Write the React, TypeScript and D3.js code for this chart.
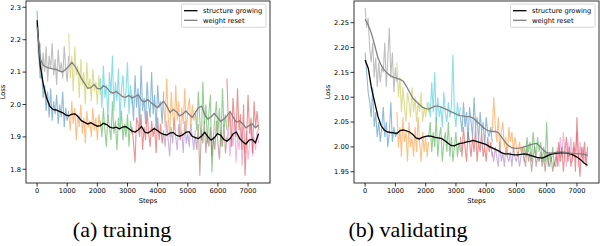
import React from 'react';
import * as d3 from 'd3';

// raw loss is logged every 50 steps, each colored run covers 1050 steps
const RAW_STEP = 50;
const SEG_LEN = 1050;
const SMOOTH_STEP = 105;
const xDomain = [-368, 7728];
const legendLabels = ["structure growing", "weight reset"];

// ---- training ----
const trainGrowRaw = [
	[2.29, 2.17, 2.08, 2.10, 2.02, 2.06, 1.98, 2.04, 1.96, 2.05, 1.95, 2.01, 1.97, 2.03, 1.94, 2.00, 1.96, 2.04, 1.93, 1.99, 1.95, 1.98],
	[1.97, 1.92, 2.01, 1.94, 1.99, 1.89, 1.97, 1.93, 2.00, 1.91, 1.96, 1.88, 1.98, 1.93, 1.95, 1.90, 1.99, 1.92, 1.96, 1.89, 1.97, 1.93],
	[1.95, 1.90, 1.99, 1.92, 1.87, 1.97, 1.93, 1.89, 2.01, 1.91, 1.95, 1.86, 1.96, 1.92, 1.98, 1.89, 1.94, 1.90, 1.97, 1.87, 1.95, 1.91],
	[1.93, 1.88, 1.82, 1.96, 1.94, 1.90, 1.97, 1.86, 1.93, 1.89, 1.98, 1.91, 1.87, 1.95, 1.90, 1.93, 1.85, 1.96, 1.89, 1.94, 1.88, 1.92],
	[1.91, 1.87, 1.95, 1.89, 1.84, 1.93, 1.88, 1.96, 1.90, 1.86, 1.94, 1.89, 1.92, 1.85, 1.95, 1.88, 1.91, 1.87, 1.94, 1.90, 1.86, 1.92],
	[1.90, 1.86, 1.94, 1.78, 1.92, 1.88, 1.95, 1.85, 1.91, 1.87, 1.93, 1.84, 1.90, 1.86, 1.95, 1.88, 1.83, 1.92, 1.87, 1.94, 1.85, 1.90],
	[1.89, 1.93, 1.84, 1.91, 1.87, 1.96, 1.82, 1.90, 1.86, 1.93, 1.81, 1.89, 1.85, 1.92, 1.83, 1.88, 1.94, 1.84, 1.90, 1.86, 1.92, 1.88]
];
const trainResetRaw = [
	[2.25, 2.14, 2.19, 2.08, 2.16, 2.10, 2.18, 2.07, 2.15, 2.11, 2.19, 2.09, 2.14, 2.06, 2.17, 2.10, 2.13, 2.08, 2.18, 2.11, 2.07, 2.15],
	[2.22, 2.08, 2.15, 2.04, 2.18, 2.09, 2.12, 2.02, 2.14, 2.06, 2.10, 2.00, 2.13, 2.05, 2.08, 2.01, 2.11, 2.04, 2.07, 2.00, 2.09, 2.03],
	[2.08, 1.99, 2.12, 2.02, 2.06, 1.96, 2.10, 2.03, 2.15, 1.98, 2.07, 2.01, 2.11, 1.95, 2.05, 2.09, 1.99, 2.04, 2.13, 1.97, 2.06, 2.00],
	[2.03, 1.95, 2.09, 1.99, 2.05, 1.93, 2.12, 1.98, 2.02, 1.94, 2.07, 2.00, 1.96, 2.10, 1.97, 2.03, 1.92, 2.06, 1.99, 2.01, 1.94, 2.04],
	[2.00, 1.93, 2.08, 1.96, 1.90, 2.04, 1.97, 1.92, 2.06, 1.95, 2.01, 1.89, 1.99, 1.94, 2.05, 1.91, 1.98, 2.02, 1.93, 2.00, 1.95, 1.97],
	[1.98, 1.92, 2.04, 1.95, 1.89, 2.07, 1.94, 2.00, 1.88, 1.97, 2.03, 1.79, 1.90, 1.96, 2.01, 1.91, 1.99, 1.87, 2.05, 1.93, 1.97, 1.92],
	[2.08, 1.93, 1.98, 1.87, 2.02, 1.95, 1.90, 2.05, 1.92, 1.97, 1.86, 2.00, 1.78, 1.89, 2.03, 1.91, 1.96, 1.85, 2.01, 1.93, 1.98, 1.92]
];
const trainGrowSmooth = [
	2.26, 2.12, 2.06, 2.02, 1.995, 1.985, 1.983, 1.979, 1.975, 1.968,
	1.965, 1.970, 1.971, 1.962, 1.950, 1.945, 1.940, 1.944, 1.938, 1.933,
	1.935, 1.942, 1.938, 1.930, 1.927, 1.930, 1.925, 1.930, 1.932, 1.925,
	1.918, 1.915, 1.922, 1.932, 1.915, 1.912, 1.918, 1.926, 1.920, 1.912,
	1.908, 1.906, 1.912, 1.914, 1.905, 1.902, 1.906, 1.914, 1.916, 1.902,
	1.898, 1.895, 1.903, 1.914, 1.900, 1.890, 1.897, 1.910, 1.905, 1.892,
	1.887, 1.895, 1.910, 1.915, 1.895, 1.885, 1.878, 1.890, 1.892, 1.882, 1.910
];
const trainResetSmooth = [
	2.24, 2.14, 2.12, 2.115, 2.112, 2.110, 2.108, 2.104, 2.100, 2.108,
	2.118, 2.130, 2.118, 2.100, 2.080, 2.065, 2.050, 2.052, 2.062, 2.050,
	2.048, 2.058, 2.052, 2.040, 2.035, 2.040, 2.032, 2.024, 2.022, 2.028,
	2.020, 2.025, 2.030, 2.012, 2.008, 2.015, 2.005, 1.998, 1.990, 2.000,
	2.010, 1.995, 1.975, 1.985, 1.978, 1.965, 1.970, 1.980, 1.970, 1.960,
	1.975, 1.990, 1.995, 1.968, 1.955, 1.962, 1.972, 1.960, 1.948, 1.955,
	1.965, 1.978, 1.960, 1.945, 1.950, 1.940, 1.928, 1.935, 1.940, 1.928, 1.937
];

// ---- validating ----
const validGrowRaw = [
	[2.19, 2.15, 2.11, 2.09, 2.06, 2.12, 2.04, 2.07, 2.02, 2.05, 2.01, 2.04, 2.08, 2.02, 2.05, 2.00, 2.03, 2.09, 2.01, 2.04, 2.02, 2.03],
	[2.07, 2.00, 2.04, 1.98, 2.06, 2.01, 2.03, 1.97, 2.05, 2.00, 2.02, 1.98, 2.04, 1.99, 2.06, 2.01, 1.97, 2.03, 1.99, 2.02, 1.98, 2.01],
	[2.02, 2.05, 1.99, 2.03, 2.00, 2.06, 1.98, 2.02, 2.04, 1.97, 2.01, 2.03, 1.99, 2.05, 1.98, 2.02, 1.97, 2.00, 2.03, 1.98, 2.01, 1.99],
	[2.02, 1.98, 2.04, 2.00, 1.97, 2.03, 2.01, 1.98, 2.02, 1.99, 2.04, 1.97, 2.01, 1.99, 2.03, 1.98, 2.00, 1.97, 2.02, 1.99, 2.01, 1.98],
	[1.99, 1.97, 2.00, 1.98, 1.96, 2.01, 1.97, 1.99, 1.96, 2.00, 1.98, 1.97, 1.99, 1.96, 2.00, 1.98, 1.97, 1.99, 1.96, 1.98, 2.00, 1.97],
	[1.98, 1.96, 2.00, 1.97, 1.99, 1.95, 1.98, 2.00, 1.96, 1.98, 1.97, 1.99, 1.96, 1.98, 1.95, 1.99, 1.97, 1.96, 1.98, 1.95, 1.97, 1.96],
	[1.97, 2.00, 1.96, 2.02, 1.98, 2.03, 1.99, 1.96, 2.01, 1.98, 2.02, 1.97, 2.00, 1.99, 2.03, 1.96, 2.01, 1.98, 2.00, 1.97, 1.99, 1.98]
];
const validResetRaw = [
	[2.28, 2.24, 2.26, 2.20, 2.17, 2.21, 2.14, 2.18, 2.12, 2.17, 2.13, 2.16, 2.15, 2.21, 2.12, 2.18, 2.24, 2.14, 2.19, 2.11, 2.16, 2.13],
	[2.17, 2.10, 2.14, 2.07, 2.12, 2.08, 2.05, 2.11, 2.09, 2.06, 2.12, 2.07, 2.10, 2.05, 2.09, 2.07, 2.11, 2.05, 2.08, 2.06, 2.09, 2.07],
	[2.09, 2.06, 2.13, 2.07, 2.15, 2.05, 2.10, 2.06, 2.08, 2.04, 2.11, 2.07, 2.05, 2.09, 2.06, 2.08, 2.186, 2.07, 2.04, 2.09, 2.06, 2.08],
	[2.06, 2.03, 2.09, 2.04, 2.07, 2.01, 2.08, 2.05, 2.02, 2.10, 2.04, 2.06, 2.01, 2.07, 2.03, 2.05, 2.00, 2.06, 2.03, 2.02, 2.04, 2.01],
	[2.03, 2.10, 2.04, 2.01, 2.06, 1.99, 2.03, 2.05, 2.00, 2.02, 1.98, 2.04, 2.01, 2.03, 1.99, 2.02, 2.00, 1.98, 2.01, 1.99, 2.00, 1.98],
	[2.00, 1.98, 2.02, 1.99, 2.01, 1.97, 2.03, 2.00, 1.98, 2.02, 1.99, 2.01, 1.97, 2.00, 1.97, 2.05, 1.96, 1.99, 1.97, 2.00, 1.96, 1.98],
	[1.99, 1.96, 2.01, 1.97, 2.00, 1.95, 1.99, 2.02, 1.97, 2.00, 1.96, 1.98, 2.01, 1.95, 2.06, 1.98, 1.94, 2.00, 1.97, 2.01, 1.96, 2.00]
];
const validGrowSmooth = [
	2.175, 2.158, 2.118, 2.090, 2.062, 2.043, 2.034, 2.030, 2.029, 2.028,
	2.027, 2.033, 2.034, 2.032, 2.030, 2.025, 2.018, 2.016, 2.019, 2.021,
	2.022, 2.021, 2.019, 2.018, 2.017, 2.013, 2.008, 2.003, 2.002, 2.005,
	2.007, 2.008, 2.010, 2.011, 2.013, 2.011, 2.009, 2.007, 2.005, 2.001,
	1.998, 1.995, 1.992, 1.988, 1.986, 1.986, 1.985, 1.984, 1.984, 1.985,
	1.986, 1.985, 1.983, 1.981, 1.979, 1.978, 1.978, 1.981, 1.984, 1.986,
	1.987, 1.988, 1.988, 1.988, 1.987, 1.985, 1.982, 1.978, 1.973, 1.967, 1.963
];
const validResetSmooth = [
	2.257, 2.245, 2.228, 2.205, 2.180, 2.165, 2.155, 2.148, 2.143, 2.140,
	2.138, 2.136, 2.132, 2.122, 2.110, 2.098, 2.092, 2.086, 2.080, 2.077,
	2.076, 2.079, 2.082, 2.082, 2.080, 2.077, 2.074, 2.071, 2.068, 2.065,
	2.063, 2.062, 2.061, 2.061, 2.058, 2.052, 2.046, 2.040, 2.035, 2.032,
	2.031, 2.031, 2.028, 2.019, 2.010, 2.003, 1.999, 1.997, 1.997, 1.998,
	2.000, 2.002, 2.004, 2.006, 2.007, 2.001, 1.994, 1.989, 1.987, 1.988,
	1.989, 1.990, 1.990, 1.989, 1.988, 1.987, 1.987, 1.986, 1.986, 1.985, 1.983
];

const trainTicks = [1.8, 1.9, 2.0, 2.1, 2.2, 2.3];
const validTicks = [1.95, 2.0, 2.05, 2.1, 2.15, 2.2, 2.25];
const stepTicks = [0, 1000, 2000, 3000, 4000, 5000, 6000, 7000];

const tickFont = "'DejaVu Sans', sans-serif";
const tickSize = 6.7;

const Panel = ({ id, left, right, top, bottom, yDomain, yTicks, yFormat, raw, smooth, caption, captionX }) => {

	const x = d3.scaleLinear().domain(xDomain).range([left, right]);
	const y = d3.scaleLinear().domain(yDomain).range([bottom, top]);

	const rawLine = (start) => d3.line<number>()
		.x((d, i) => x(start + i * RAW_STEP))
		.y((d) => y(d));
	const smoothLine = d3.line<number>()
		.x((d, i) => x(i * SMOOTH_STEP))
		.y((d) => y(d));

	// 7 "structure growing" runs then 7 "weight reset" runs, colored in tab10 order
	const runs = [...raw[0], ...raw[1]];
	const lx = right - 88.5;

	return (
		<g>
			<clipPath id={ id }>
				<rect x={ left } y={ top } width={ right - left } height={ bottom - top } />
			</clipPath>
			<g clipPath={ `url(#${id})` }>
				{ runs.map((seg, k) => (
					<path key={ k }
						d={ rawLine((k % 7) * SEG_LEN)(seg) }
						fill="none"
						stroke={ d3.schemeCategory10[k % 10] }
						strokeOpacity={ 0.5 }
						strokeWidth={ 1.1 } />
				)) }
				<path d={ smoothLine(smooth[0]) } fill="none" stroke="#000" strokeWidth={ 1.3 } />
				<path d={ smoothLine(smooth[1]) } fill="none" stroke="#808080" strokeWidth={ 1.3 } />
			</g>
			<rect x={ left } y={ top } width={ right - left } height={ bottom - top }
				fill="none" stroke="#000" strokeWidth={ 0.8 } />

			<g fontFamily={ tickFont } fontSize={ tickSize } fill="#000">
				{ stepTicks.map((t) => (
					<g key={ t }>
						<line x1={ x(t) } x2={ x(t) } y1={ bottom } y2={ bottom + 3.5 } stroke="#000" strokeWidth={ 0.8 } />
						<text x={ x(t) } y={ bottom + 10.2 } textAnchor="middle">{ t }</text>
					</g>
				)) }
				{ yTicks.map((t) => (
					<g key={ t }>
						<line x1={ left - 3.5 } x2={ left } y1={ y(t) } y2={ y(t) } stroke="#000" strokeWidth={ 0.8 } />
						<text x={ left - 5 } y={ y(t) } dy="0.35em" textAnchor="end">{ d3.format(yFormat)(t) }</text>
					</g>
				)) }
				<text x={ (left + right) / 2 } y={ bottom + 19.5 } textAnchor="middle">Steps</text>
				<text transform={ `translate(${left - (yFormat === ".1f" ? 21 : 24.5)},${(top + bottom) / 2})rotate(-90)` }
					textAnchor="middle">Loss</text>
			</g>

			<g fontFamily={ tickFont } fontSize={ tickSize }>
				<rect x={ lx } y={ 4 } width={ 84.5 } height={ 23.3 } rx={ 1.5 }
					fill="#fff" fillOpacity={ 0.8 } stroke="#ccc" strokeWidth={ 0.8 } />
				{ legendLabels.map((label, i) => (
					<g key={ label }>
						<line x1={ lx + 2.5 } x2={ lx + 16 } y1={ 10.7 + i * 9.6 } y2={ 10.7 + i * 9.6 }
							stroke={ i === 0 ? "#000" : "#808080" } strokeWidth={ 1.3 } />
						<text x={ lx + 21.5 } y={ 10.7 + i * 9.6 } dy="0.35em">{ label }</text>
					</g>
				)) }
			</g>

			<text x={ captionX } y={ 237 } textAnchor="middle"
				fontFamily="'Liberation Serif', serif" fontSize={ 22 }>{ caption }</text>
		</g>
	);
};

export default function App() {
	return (
		<svg width={ 600 } height={ 246 } style={{ position: 'absolute', left: 0, top: 0, background: '#fff' }}>
			<Panel id="clip-train" left={ 26 } right={ 270 } top={ 1 } bottom={ 183 }
				yDomain={ [1.7577, 2.3194] } yTicks={ trainTicks } yFormat=".1f"
				raw={ [trainGrowRaw, trainResetRaw] } smooth={ [trainGrowSmooth, trainResetSmooth] }
				caption="(a) training" captionX={ 122 } />
			<Panel id="clip-valid" left={ 354 } right={ 599 } top={ 1 } bottom={ 183 }
				yDomain={ [1.9273, 2.2937] } yTicks={ validTicks } yFormat=".2f"
				raw={ [validGrowRaw, validResetRaw] } smooth={ [validGrowSmooth, validResetSmooth] }
				caption="(b) validating" captionX={ 408 } />
		</svg>
	);
}
